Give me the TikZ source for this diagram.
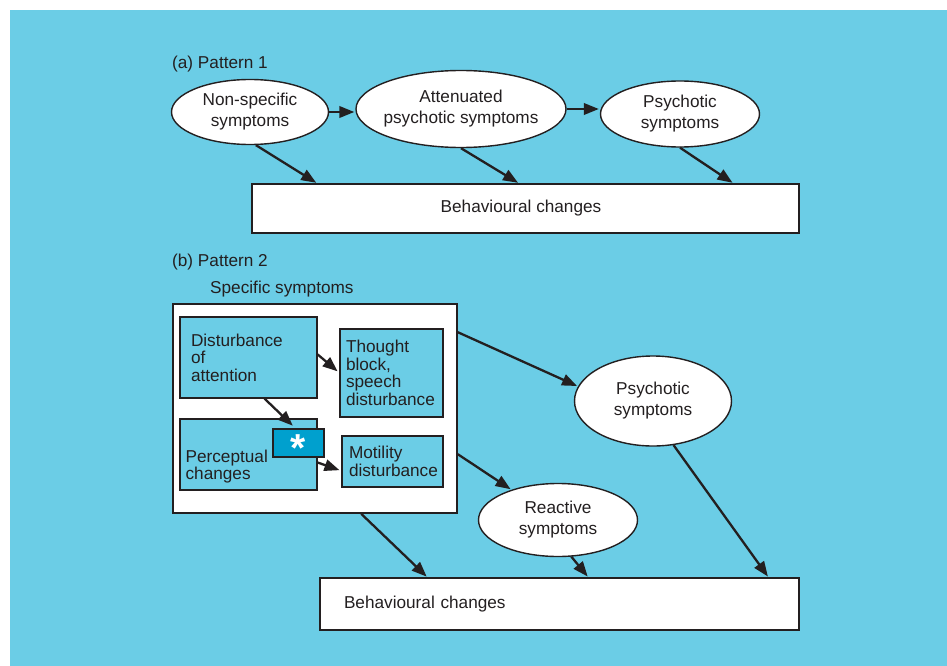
\documentclass[tikz,border=0pt]{standalone}
\usepackage{fontspec}
\setmainfont{Liberation Sans}
\usepackage{xcolor}
\usepackage{tikz}
\usetikzlibrary{positioning,arrows.meta,shapes.geometric,calc}

\definecolor{bgblue}{RGB}{107,205,230}
\definecolor{starblue}{RGB}{0,160,206}
\definecolor{inkgray}{RGB}{35,31,32}

\begin{document}
\begin{tikzpicture}[x=1pt,y=-1pt,
  every node/.style={text=inkgray, font=\fontsize{17.2}{21}\selectfont},
  oval/.style={ellipse, draw=inkgray, line width=1.4pt, fill=white, inner sep=0pt, align=center},
  outbox/.style={rectangle, draw=inkgray, line width=1.4pt, fill=white, inner sep=0pt},
  symbox/.style={rectangle, draw=inkgray, line width=1.2pt, fill=bgblue, inner ysep=0pt,
                 align=left, font=\fontsize{17.2}{17.5}\selectfont},
  link/.style={draw=inkgray, line width=2.3pt, shorten >=1pt, -{Triangle[length=15pt,width=11.5pt]}}]

  % Background
  \fill[bgblue] (10,10) rectangle (947,666);
  \useasboundingbox (0,0) rectangle (947,666);

  % (a) Pattern 1
  \node[anchor=west, inner sep=0pt] (titlea) at (172,64) {(a) Pattern 1};
  \node[oval, minimum width=157pt, minimum height=65pt] (nonspec) at (250,112) {Non-specific\\symptoms};
  \node[oval, inner sep=-4pt, minimum width=210pt, minimum height=77pt] (atten) at (461,109) {Attenuated\\psychotic symptoms};
  \node[oval, minimum width=159pt, minimum height=66pt] (psyA) at (680,114) {Psychotic\\symptoms};
  \node[outbox, minimum width=547pt, minimum height=49pt] (behavA) at (525.5,208.5) {\hspace*{-9pt}Behavioural changes};

  \draw[link] (nonspec.east) -- (nonspec.east -| atten.west);
  \draw[link] (atten.east) -- (atten.east -| psyA.west);
  \draw[link] (nonspec.280) -- ($(behavA.north west)!0.12!(behavA.north east)$);
  \draw[link] (atten.south) -- ($(behavA.north west)!0.488!(behavA.north east)$);
  \draw[link] (psyA.south) -- ($(behavA.north west)!0.879!(behavA.north east)$);

  % (b) Pattern 2
  \node[anchor=west, inner sep=0pt] (titleb) at (172,262) {(b) Pattern 2};
  \node[anchor=west, inner sep=0pt] (speclabel) at (210,289) {Specific symptoms};
  \node[outbox, line width=1.6pt, minimum width=284pt, minimum height=209pt] (specific) at (315,408.5) {};

  \node[symbox, text width=115pt, inner xsep=11pt, minimum height=81pt] (disturb) at (248.5,357.5) {Disturbance\\of\\attention};
  \node[symbox, text width=91pt, inner xsep=6pt, minimum height=88pt] (thought) at (391.5,373) {Thought\\block,\\speech\\disturbance};
  \node[symbox, minimum width=137pt, minimum height=71pt] (percept) at (248.5,454.5) {};
  \node[anchor=south west, inner sep=0pt, align=left, font=\fontsize{17.2}{17.5}\selectfont]
       (percepttxt) at ($(percept.south west)+(6,-7)$) {Perceptual\\changes};
  \node[rectangle, draw=inkgray, line width=1.2pt, fill=starblue, minimum width=51pt, minimum height=28pt,
        inner sep=0pt] (star) at (298.5,443) {};
  \node[inner sep=0pt, text=white, font=\fontsize{39}{39}\selectfont\bfseries] (starmark) at ($(star.center)+(0,5)$) {*};
  \node[symbox, text width=87pt, inner xsep=7pt, minimum height=51pt] (motility) at (392.5,461.5) {Motility\\disturbance};

  \node[oval, minimum width=157pt, minimum height=90pt] (psyB) at (653,401) {Psychotic\\symptoms};
  \node[oval, minimum width=159pt, minimum height=73pt] (reactive) at (558,520) {Reactive\\symptoms};
  \node[outbox, text width=431pt, inner xsep=24pt, minimum height=52pt, align=left] (behavB) at (559.5,604) {Behavioural changes};

  \draw[link] ($(disturb.north east)+(0,38)$) -- ($(thought.west)+(-1,-1)$);
  \draw[link] ($(disturb.south)+(16,0)$) -- ($(star.north)+(-5,-2)$);
  \draw[link] ($(percept.east)+(0,8)$) -- ($(motility.west)+(-1,9)$);
  \draw[link] ($(specific.north east)+(0,29)$) -- (psyB.169);
  \draw[link] ($(specific.north east)+(0,151)$) -- (reactive.147);
  \draw[link] ($(specific.south west)+(189,0)$) -- ($(behavB.north west)!0.225!(behavB.north east)$);
  \draw[link] (reactive.290) -- ($(behavB.north west)!0.56!(behavB.north east)$);
  \draw[link] (psyB.295) -- ($(behavB.north west)!0.935!(behavB.north east)$);
\end{tikzpicture}
\end{document}
